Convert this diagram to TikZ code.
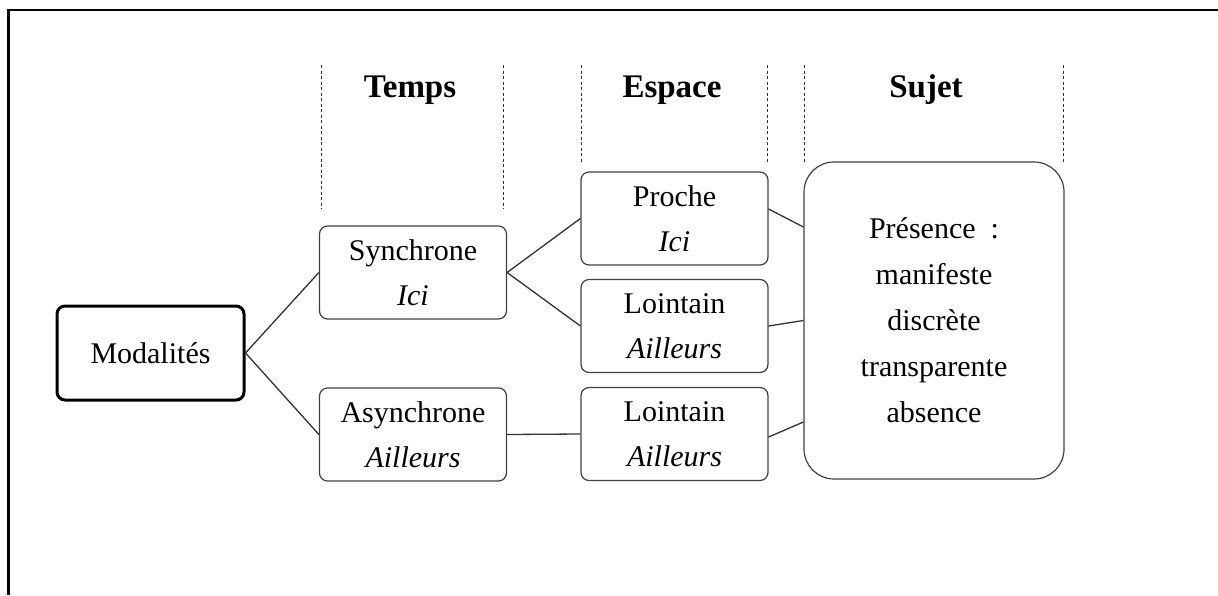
\documentclass[tikz,border=0pt]{standalone}
\usepackage{fontspec}
\setmainfont{Liberation Serif}

\begin{document}
\begin{tikzpicture}[
  x=1pt, y=-1pt,
  box/.style={draw=black!75, line width=1.2pt, rounded corners=8pt,
    minimum width=187pt, minimum height=93pt, align=center, inner sep=0pt,
    font=\fontsize{30}{45}\selectfont},
  root/.style={box, draw=black, line width=3pt, minimum height=94pt},
  bigbox/.style={box, rounded corners=30pt, minimum width=260pt,
    minimum height=317pt, font=\fontsize{30}{46}\selectfont},
  head/.style={anchor=base, font=\fontsize{33}{40}\selectfont\bfseries},
  sep/.style={black!80, line width=1pt, dash pattern=on 3pt off 2.5pt},
  link/.style={black!80, line width=1.3pt}
]
\useasboundingbox (0,0) rectangle (1218,595);
\draw [line width=2.5pt] (8.5,595) -- (8.5,10) -- (1218,10);

% column headers
\node [head] (temps) at (410,97) {Temps};
\node [head] (espace) at (672,97) {Espace};
\node [head] (sujet) at (926,97) {Sujet};
\foreach \x/\y in {321/209, 503/209, 581/163, 767/163, 804/163, 1063/163}
  \draw [sep] (\x,65) -- (\x,\y);

% boxes
\node [root] (mod) at (150.5,353) {Modalités};
\node [box] (syn) at (413,272.5) {Synchrone\\\textit{Ici}};
\node [box] (asyn) at (413,434.5) {Asynchrone\\\textit{Ailleurs}};
\node [box] (proche) at (674.5,218.5) {Proche\\\textit{Ici}};
\node [box] (loin) at (674.5,326) {Lointain\\\textit{Ailleurs}};
\node [box] (loinb) at (674.5,434) {Lointain\\\textit{Ailleurs}};
\node [bigbox] (pres) at (934,320.5)
  {Présence~~:\\manifeste\\discrète\\transparente\\absence};

% links
\draw [link] (mod.east) -- (syn.west);
\draw [link] (mod.east) -- (asyn.west);
\draw [link] (syn.east) -- (proche.west);
\draw [link] (syn.east) -- (loin.west);
\draw [link] (asyn.east) -- (loinb.west);
\draw [link] ([yshift=9.5pt]proche.east) -- ([yshift=93.5pt]pres.west);
\draw [link] (loin.east) -- (pres.west);
\draw [link] ([yshift=-3pt]loinb.east) -- ([yshift=-101.5pt]pres.west);
\end{tikzpicture}
\end{document}
